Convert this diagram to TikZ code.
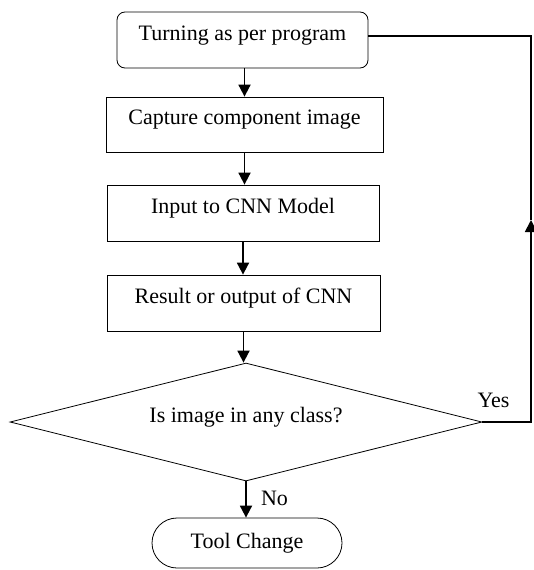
\documentclass[tikz,border=0pt]{standalone}
\usepackage{fontspec}
\setmainfont{Liberation Serif}
\usetikzlibrary{shapes.geometric,arrows.meta}
\begin{document}
\begin{tikzpicture}[x=1pt,y=1pt,
  txt/.style={font=\fontsize{22}{26}\selectfont},
  base/.style={txt, draw=black, line width=0.8pt, inner sep=0pt,
    text height=15pt, text depth=15pt},
  startbox/.style={base, rectangle, rounded corners=8pt,
    minimum width=251pt, minimum height=56pt},
  procbox/.style={base, rectangle, minimum height=56pt},
  decision/.style={base, diamond, aspect=4,
    minimum width=472pt, minimum height=118pt},
  endbox/.style={txt, draw=black, line width=0.8pt, rectangle,
    rounded corners=25pt, minimum width=190pt, minimum height=50pt},
  link/.style={line width=1.8pt},
  flow/.style={link, -{Triangle[width=12pt,length=12pt]}},
  tag/.style={txt, inner sep=0pt, anchor=base}
]
\useasboundingbox (0,0) rectangle (533,-570);

% process steps
\node[startbox] (top) at (242.5,-40) {Turning as per program};
\node[procbox, minimum width=277pt, minimum height=55pt] (cap) at (244.5,-124.5) {Capture component image};
\node[procbox, minimum width=272pt] (inp) at (243,-213) {Input to CNN Model};
\node[procbox, minimum width=273pt] (res) at (243.5,-303) {Result or output of CNN};
\node[decision] (dec) at (246,-422) {Is image in any class?};
\node[endbox] (tool) at (247,-543) {Tool Change};

% main flow
\draw[flow] (top.south -| cap.north) -- (cap.north);
\draw[flow] (cap.south) -- (cap.south |- inp.north);
\draw[flow] (inp.south) -- (inp.south |- res.north);
\draw[flow] (res.south) -- (res.south |- dec.north);
\draw[flow] (dec.south) -- (dec.south |- tool.north);

% loop back on "Yes"
\coordinate (mid) at (531,-220);
\coordinate (turn) at (531,-36);
\draw[flow] (dec.east) -| (mid);
\draw[link] (mid) -- (turn) -- (top.east |- turn);

% branch labels
\node[tag] (yes) at (493.5,-407) {Yes};
\node[tag] (no) at (274.5,-505) {No};
\end{tikzpicture}
\end{document}
